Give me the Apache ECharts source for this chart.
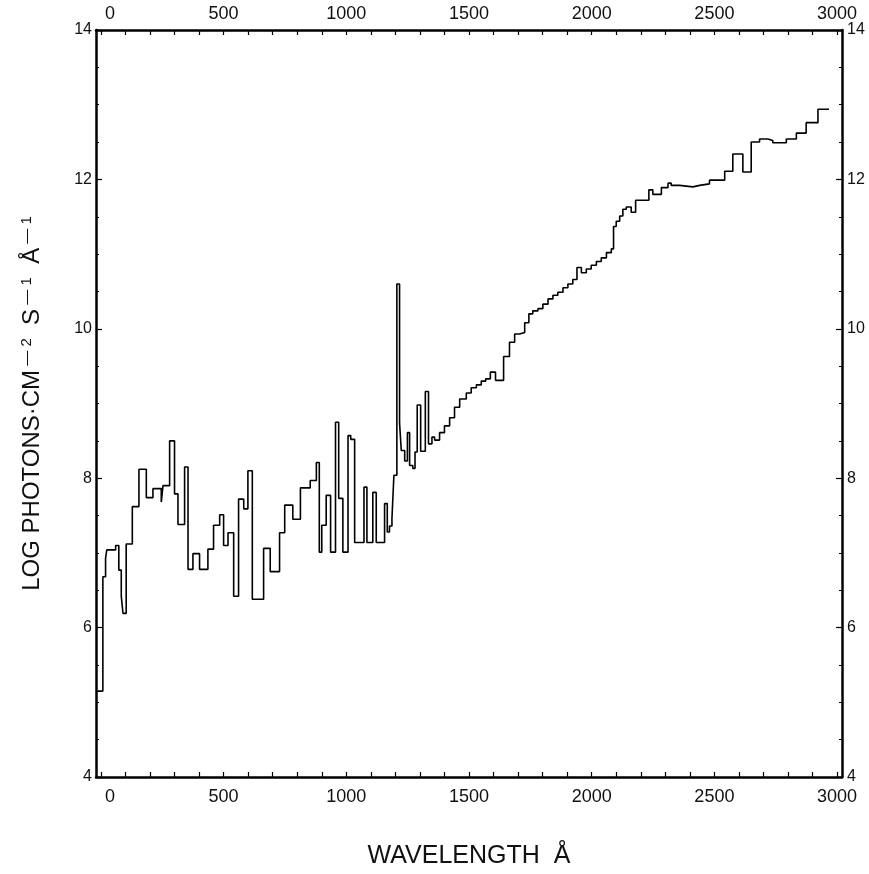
<!DOCTYPE html>
<html>
<head>
<meta charset="utf-8">
<script src="https://cdn.jsdelivr.net/npm/echarts@6/dist/echarts.min.js"></script>
<style>
html,body{margin:0;padding:0;background:#fff;}
#chart{width:869px;height:874px;}
</style>
</head>
<body>
<div id="chart"></div>
<script>
// Bin left edges (Å) and the step value of each bin (log photons cm^-2 s^-1 Å^-1)
const binEdges = [
  -15, 8, 19, 24, 60, 73, 83, 90, 103, 128, 155, 185, 212, 246, 253, 280, 300, 314, 341, 355,
  375, 402, 436, 459, 484, 500, 518, 541, 561, 582, 599, 617, 663, 690, 728, 749, 782, 813, 853, 878,
  890, 900, 918, 936, 956, 969, 986, 1007, 1018, 1034, 1072, 1084, 1108, 1122, 1156, 1167, 1176, 1186, 1194, 1206,
  1217, 1224, 1238, 1249, 1258, 1271, 1280, 1289, 1303, 1322, 1335, 1349, 1360, 1380, 1400, 1421, 1441, 1462, 1489, 1509,
  1530, 1550, 1568, 1587, 1608, 1641, 1665, 1686, 1706, 1727, 1744, 1760, 1781, 1801, 1822, 1842, 1862, 1883, 1903, 1923,
  1940, 1958, 1978, 1998, 2019, 2039, 2060, 2080, 2089, 2100, 2114, 2127, 2141, 2161, 2179, 2233, 2249, 2284, 2311, 2324,
  2358, 2412, 2440, 2480, 2542, 2575, 2616, 2650, 2684, 2718, 2738, 2793, 2834, 2874, 2922
];
const binValues = [
  5.15, 6.68, 6.93, 7.04, 7.10, 6.77, 6.42, 6.19, 7.12, 7.62, 8.12, 7.74, 7.86, 7.68, 7.90, 8.50, 7.79, 7.38, 8.15, 6.78,
  6.99, 6.78, 7.05, 7.37, 7.51, 7.10, 7.27, 6.42, 7.72, 7.59, 8.10, 6.38, 7.06, 6.75, 7.27, 7.64, 7.45, 7.87, 7.97, 8.21,
  7.01, 7.37, 7.77, 7.01, 8.75, 7.73, 7.01, 8.57, 8.52, 7.14, 7.88, 7.14, 7.81, 7.14, 7.66, 7.28, 7.36, 7.46, 8.04, 10.60,
  8.74, 8.37, 8.23, 8.61, 8.17, 8.13, 8.35, 8.98, 8.36, 9.16, 8.46, 8.55, 8.51, 8.61, 8.70, 8.81, 8.95, 9.06, 9.14, 9.21,
  9.25, 9.30, 9.33, 9.42, 9.31, 9.63, 9.82, 9.93, 9.95, 10.08, 10.20, 10.24, 10.27, 10.33, 10.40, 10.45, 10.49, 10.55, 10.60, 10.66,
  10.82, 10.75, 10.80, 10.85, 10.90, 10.95, 11.02, 11.07, 11.37, 11.44, 11.51, 11.60, 11.63, 11.56, 11.72, 11.86, 11.80, 11.89, 11.95, 11.92,
  11.90, 11.92, 11.94, 11.99, 12.11, 12.34, 12.10, 12.50, 12.54, 12.52, 12.49, 12.54, 12.62, 12.76, 12.94
];
const lastEdge = 2967;

const xTickLabels = [0, 500, 1000, 1500, 2000, 2500, 3000];
const xMinorTicks = [];
for (let v = 0; v <= 3000; v += 100) xMinorTicks.push(v);
const yTickLabels = [4, 6, 8, 10, 12, 14];

const stepData = binEdges.map((e, i) => [e, binValues[i]]);
stepData.push([lastEdge, binValues[binValues.length - 1]]);

const FONT = 'Liberation Sans';
const lineStyle = { color: '#000', width: 2.5 };

function xAxisCfg(pos) {
  return {
    type: 'value', position: pos, min: -20, max: 3020,
    axisLine: { show: true, onZero: false, lineStyle },
    axisTick: { show: true, inside: true, length: 5, customValues: xMinorTicks, lineStyle: { color: '#000', width: 1.2 } },
    axisLabel: {
      show: true, customValues: xTickLabels, color: '#111', fontFamily: FONT, fontSize: 18, margin: pos === 'top' ? 7 : 11,
      formatter: v => (v === 0 ? '{z|0}' : String(v)),
      rich: { z: { fontFamily: FONT, fontSize: 18, color: '#111', padding: [0, 0, 0, 18] } }
    },
    splitLine: { show: false }
  };
}
function yAxisCfg(pos) {
  return {
    type: 'value', position: pos, min: 4, max: 14, interval: 2,
    axisLine: { show: true, onZero: false, lineStyle },
    axisTick: { show: true, inside: true, length: 6, lineStyle: { color: '#000', width: 1.2 } },
    minorTick: { show: true, splitNumber: 4, length: 3, lineStyle: { color: '#000', width: 1 } },
    axisLabel: {
      show: true, color: '#111', fontFamily: FONT, fontSize: 16, margin: pos === 'left' ? 4 : 5,
      customValues: yTickLabels
    },
    splitLine: { show: false }
  };
}

const chart = echarts.init(document.getElementById('chart'), null, { renderer: 'canvas' });
const xb = xAxisCfg('bottom');
xb.name = 'WAVELENGTH  Å';
xb.nameLocation = 'middle';
xb.nameGap = 67;
xb.nameTextStyle = { fontFamily: FONT, fontSize: 25, color: '#111' };
const yl = yAxisCfg('left');
yl.name = 'LOG PHOTONS·CM{sup| — 2}  S{sup| — 1}  Å{sup| — 1}';
yl.nameLocation = 'middle';
yl.nameRotate = 90;
yl.nameGap = 50;
yl.nameTextStyle = {
  fontFamily: FONT, fontSize: 24, color: '#111',
  rich: { sup: { fontFamily: FONT, fontSize: 15, color: '#111', verticalAlign: 'top', padding: [0, 0, 12, 0] } }
};

chart.setOption({
  animation: false,
  backgroundColor: '#fff',
  grid: { left: 96, right: 27, top: 30, bottom: 95, containLabel: false },
  xAxis: [xb, xAxisCfg('top')],
  yAxis: [yl, yAxisCfg('right')],
  series: [{
    type: 'line', step: 'end', data: stepData, xAxisIndex: 0, yAxisIndex: 0,
    showSymbol: false, symbol: 'none',
    lineStyle: { color: '#000', width: 1.6 }
  }]
});
</script>
</body>
</html>
